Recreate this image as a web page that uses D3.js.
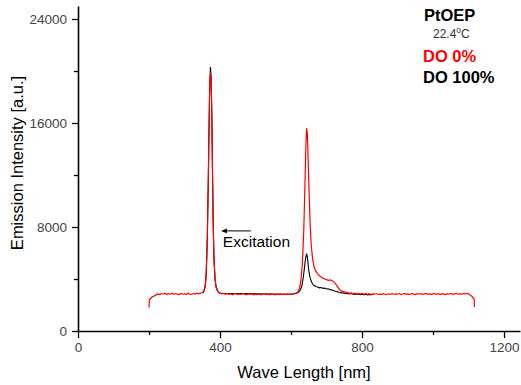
<!DOCTYPE html>
<html>
<head>
<meta charset="utf-8">
<script src="https://cdn.jsdelivr.net/npm/d3@7"></script>
<style>
  body { margin: 0; background: #fff; }
  text { font-family: "Liberation Sans", Arial, sans-serif; }
</style>
</head>
<body>
<script>
// PtOEP emission spectra, [wavelength nm, intensity a.u.]
const doZero = [
  [200,1800],[201,2400],[205,2520],[210,2640],[215,2700],[220,2780],[225,2850],[230,2800],[235,2880],[240,2830],
  [245,2900],[250,2810],[255,2870],[260,2830],[265,2910],[270,2820],[275,2880],[280,2840],[285,2800],[290,2890],
  [295,2830],[300,2870],[305,2810],[310,2900],[315,2840],[320,2820],[325,2880],[330,2840],[335,2910],[340,2860],
  [345,2910],[350,2940],[355,3080],[358,3400],[361,4300],[364,6800],[367,11500],[369,15500],[371,18800],[373,19900],
  [375,19400],[377,16500],[379,12000],[381,8000],[383,5600],[386,4000],[389,3400],[393,3080],[397,2950],[401,2900],
  [405,2850],[410,2890],[415,2820],[420,2880],[425,2810],[430,2860],[435,2790],[440,2850],[445,2870],[450,2800],
  [455,2850],[460,2810],[465,2880],[470,2820],[475,2790],[480,2850],[485,2810],[490,2860],[495,2790],[500,2840],
  [505,2800],[510,2850],[515,2780],[520,2830],[525,2860],[530,2800],[535,2840],[540,2790],[545,2850],[550,2810],
  [555,2780],[560,2840],[565,2800],[570,2850],[575,2790],[580,2830],[585,2800],[590,2850],[595,2810],[600,2860],
  [605,2830],[610,2880],[615,2930],[620,3020],[624,3300],[628,3900],[632,5200],[636,7800],[639,11000],[642,14300],
  [644,15600],[646,15200],[648,13500],[651,10500],[654,8200],[657,6600],[661,5500],[665,4900],[670,4600],[675,4400],
  [680,4250],[685,4150],[690,4050],[695,4000],[700,3950],[705,3900],[710,3930],[715,3880],[720,3800],[725,3650],
  [730,3450],[735,3250],[740,3120],[745,3050],[750,3010],[755,2970],[760,2950],[765,2900],[770,2930],[775,2870],
  [780,2910],[785,2850],[790,2900],[795,2840],[800,2890],[805,2830],[810,2880],[815,2820],[820,2870],[825,2810],
  [830,2860],[835,2830],[840,2880],[845,2810],[850,2850],[855,2800],[860,2870],[865,2830],[870,2790],[875,2860],
  [880,2820],[885,2880],[890,2810],[895,2850],[900,2830],[905,2880],[910,2800],[915,2850],[920,2890],[925,2820],
  [930,2860],[935,2810],[940,2880],[945,2840],[950,2800],[955,2870],[960,2830],[965,2890],[970,2810],[975,2850],
  [980,2880],[985,2820],[990,2870],[995,2800],[1000,2850],[1005,2880],[1010,2820],[1015,2870],[1020,2810],[1025,2880],
  [1030,2840],[1035,2800],[1040,2870],[1045,2830],[1050,2890],[1055,2820],[1060,2860],[1065,2900],[1070,2830],[1075,2870],
  [1080,2820],[1085,2880],[1090,2850],[1095,2900],[1100,2860],[1105,2760],[1110,2650],[1114,2520],[1116,2480],[1116.5,1850]
]

const doHundred = [
  [352,2920],[355,3080],[358,3400],[361,4300],[364,6800],[367,11500],[369,15500],[371,18800],[373,20300],[375,19500],
  [377,16500],[379,12000],[381,8000],[383,5600],[386,4000],[389,3400],[393,3080],[397,2950],[401,2900],[605,2830],
  [610,2860],[615,2900],[620,2960],[625,3100],[630,3400],[634,4000],[638,4900],[641,5600],[644,5950],[646,5700],
  [649,4900],[652,4300],[656,3900],[660,3650],[665,3500],[670,3420],[675,3380],[680,3320],[685,3340],[690,3280],
  [695,3300],[700,3230],[705,3250],[710,3180],[715,3150],[720,3120],[725,3060],[730,3020],[735,2980],[740,2950],
  [745,2930],[750,2900],[755,2880],[760,2860],[765,2850],[770,2880],[775,2830],[780,2850],[785,2810],[790,2840],
  [795,2800],[800,2830],[805,2790],[810,2820],[815,2780],[820,2810],[825,2790],[830,2800]
]

const xTicks = [0, 400, 800, 1200]
const xMinor = [200, 600, 1000]
const yTicks = [0, 8000, 16000, 24000]
const yMinor = [4000, 12000, 20000]

renderChart()

function renderChart() {
  let width = 521
  let height = 385
  let font = '"Liberation Sans", Arial, sans-serif'

  let x = d3.scaleLinear().domain([0, 1245]).range([78, 520])
  let y = d3.scaleLinear().domain([0, 25000]).range([331, 6])

  let svg = d3.select('body').append('svg').attr('width', width).attr('height', height)

  // minor ticks first, major axes on top
  svg.append('g')
    .attr('transform', `translate(0,${y(0)})`)
    .call(d3.axisBottom(x).tickValues(xMinor).tickSize(4).tickFormat(''))
    .call(g => g.select('.domain').remove())
    .call(g => g.selectAll('line').attr('stroke-width', 1.3))

  svg.append('g')
    .attr('transform', `translate(${x(0)},0)`)
    .call(d3.axisLeft(y).tickValues(yMinor).tickSize(4).tickFormat(''))
    .call(g => g.select('.domain').remove())
    .call(g => g.selectAll('line').attr('stroke-width', 1.3))

  let xAxis = svg.append('g')
    .attr('transform', `translate(0,${y(0)})`)
    .call(d3.axisBottom(x).tickValues(xTicks).tickFormat(d3.format('d')).tickSize(7).tickSizeOuter(0).tickPadding(4))
  xAxis.select('.domain').attr('stroke-width', 1.6)
  xAxis.selectAll('line').attr('stroke-width', 1.3)
  xAxis.selectAll('text').attr('font-size', 13.5).attr('fill', '#444').style('font-family', font)

  let yAxis = svg.append('g')
    .attr('transform', `translate(${x(0)},0)`)
    .call(d3.axisLeft(y).tickValues(yTicks).tickFormat(d3.format('d')).tickSize(6).tickSizeOuter(0).tickPadding(5))
  yAxis.select('.domain').attr('stroke-width', 1.6)
  yAxis.selectAll('line').attr('stroke-width', 1.3)
  yAxis.selectAll('text').attr('font-size', 13.5).attr('fill', '#444').style('font-family', font)

  let line = d3.line()
    .x(d => x(d[0]))
    .y(d => y(d[1]))

  svg.append('path')
    .attr('fill', 'none')
    .attr('stroke', '#000')
    .attr('stroke-width', 1.1)
    .attr('d', line(doHundred))

  svg.append('path')
    .attr('fill', 'none')
    .attr('stroke', '#ff0000')
    .attr('stroke-width', 1.2)
    .attr('d', line(doZero))

  // axis titles
  svg.append('text')
    .attr('x', 304)
    .attr('y', 378)
    .attr('text-anchor', 'middle')
    .attr('font-size', 16.5)
    .text('Wave Length [nm]')

  svg.append('text')
    .attr('transform', 'translate(23,163) rotate(-90)')
    .attr('text-anchor', 'middle')
    .attr('font-size', 16.5)
    .text('Emission Intensity [a.u.]')

  // excitation note
  svg.append('defs').append('marker')
    .attr('id', 'arrow')
    .attr('viewBox', '0 0 10 10')
    .attr('refX', 1).attr('refY', 5)
    .attr('markerWidth', 6).attr('markerHeight', 6)
    .attr('orient', 'auto-start-reverse')
    .append('path').attr('d', 'M0,1 L10,5 L0,9 z').attr('fill', '#000')

  svg.append('line')
    .attr('x1', x(487)).attr('y1', y(7700))
    .attr('x2', x(418)).attr('y2', y(7700))
    .attr('stroke', '#000').attr('stroke-width', 1)
    .attr('marker-end', 'url(#arrow)')

  svg.append('text')
    .attr('x', x(408))
    .attr('y', 247)
    .attr('font-size', 15.5)
    .text('Excitation')

  // legend block
  let legend = svg.append('g')
  legend.append('text').attr('x', 424).attr('y', 21).attr('font-size', 16.5).attr('font-weight', 'bold').text('PtOEP')
  let t = legend.append('text').attr('x', 433).attr('y', 38).attr('font-size', 12).attr('fill', '#333')
  t.append('tspan').text('22.4')
  t.append('tspan').attr('dy', -5).attr('font-size', 8.5).text('o')
  t.append('tspan').attr('dy', 5).text('C')
  legend.append('text').attr('x', 423).attr('y', 62).attr('font-size', 16.5).attr('font-weight', 'bold').attr('fill', '#ff0000').text('DO 0%')
  legend.append('text').attr('x', 423).attr('y', 83).attr('font-size', 16.5).attr('font-weight', 'bold').text('DO 100%')
}
</script>
</body>
</html>
